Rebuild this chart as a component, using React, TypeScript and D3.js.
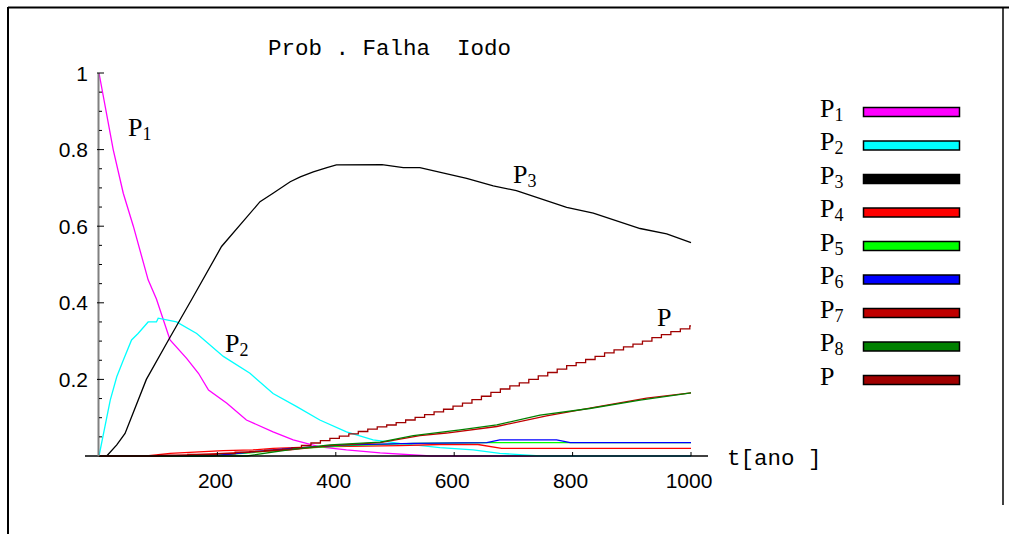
import React from "react";
import * as d3 from "d3";

// ---- data (t in years, probability) ----
const tP1 = [0, 24, 41, 58, 83, 97, 120, 148, 168, 185, 216, 249, 294, 328, 373, 418, 475, 560, 1000];
const vP1 = [1, 0.8, 0.686, 0.6, 0.46, 0.41, 0.303, 0.255, 0.216, 0.172, 0.138, 0.094, 0.063, 0.042, 0.024, 0.016, 0.008, 0, 0];

const tP2 = [0, 10, 19, 30, 41, 55, 66, 83, 97, 100, 131, 165, 210, 255, 294, 334, 373, 418, 463, 508, 576, 632, 677, 745, 1000];
const vP2 = [0, 0.077, 0.146, 0.207, 0.25, 0.303, 0.32, 0.35, 0.35, 0.36, 0.35, 0.32, 0.26, 0.216, 0.163, 0.129, 0.094, 0.063, 0.042, 0.033, 0.022, 0.016, 0.007, 0, 0];

const tP3 = [0, 13, 30, 44, 80, 120, 157, 207, 272, 294, 323, 340, 362, 385, 401, 478, 514, 542, 621, 666, 705, 790, 835, 914, 959, 1000];
const vP3 = [0, 0, 0.029, 0.059, 0.2, 0.31, 0.41, 0.547, 0.664, 0.686, 0.716, 0.729, 0.742, 0.753, 0.76, 0.761, 0.753, 0.753, 0.725, 0.705, 0.693, 0.649, 0.634, 0.594, 0.58, 0.557];

const tP4 = [0, 80, 120, 210, 260, 294, 362, 508, 576, 640, 680, 1000];
const vP4 = [0, 0, 0.007, 0.014, 0.016, 0.02, 0.024, 0.027, 0.03, 0.03, 0.02, 0.02];

const tP5 = [0, 180, 260, 323, 418, 531, 655, 677, 773, 796, 1000];
const vP5 = [0, 0, 0.009, 0.018, 0.027, 0.033, 0.035, 0.035, 0.035, 0.035, 0.035];

const tP6 = [0, 190, 260, 323, 418, 531, 655, 677, 773, 796, 1000];
const vP6 = [0, 0, 0.011, 0.02, 0.029, 0.033, 0.035, 0.042, 0.042, 0.035, 0.035];

const tP7 = [0, 120, 200, 260, 323, 390, 475, 542, 587, 672, 756, 841, 925, 1000];
const vP7 = [0, 0, 0.006, 0.011, 0.016, 0.027, 0.035, 0.053, 0.06, 0.077, 0.105, 0.128, 0.151, 0.165];

const tP8 = [0, 250, 323, 390, 475, 531, 610, 672, 745, 829, 914, 1000];
const vP8 = [0, 0, 0.017, 0.029, 0.036, 0.053, 0.068, 0.081, 0.107, 0.124, 0.146, 0.165];

// total P (staircase)
const tP = [0, 100, 150, 200, 230, 255, 280, 295, 310, 326, 342, 358, 374, 390, 406, 422, 438, 454, 470, 486, 502, 518, 534, 550, 566, 582, 598, 614, 630, 646, 662, 678, 694, 710, 726, 742, 758, 774, 790, 806, 822, 838, 854, 870, 886, 902, 918, 934, 950, 966, 982, 998, 1000];
const vP = [0, 0.002, 0.004, 0.006, 0.01, 0.012, 0.015, 0.016, 0.018, 0.022, 0.028, 0.034, 0.04, 0.046, 0.052, 0.058, 0.064, 0.07, 0.076, 0.081, 0.087, 0.094, 0.101, 0.108, 0.115, 0.122, 0.13, 0.138, 0.147, 0.156, 0.166, 0.175, 0.183, 0.191, 0.2, 0.209, 0.218, 0.227, 0.236, 0.244, 0.252, 0.26, 0.269, 0.277, 0.285, 0.292, 0.3, 0.309, 0.317, 0.325, 0.332, 0.34, 0.34];

const xTicks = [200, 400, 600, 800, 1000];
const yTicks = [0.2, 0.4, 0.6, 0.8, 1];
const yTickLabels = ["0.2", "0.4", "0.6", "0.8", "1"];
const yMinor = [0.05, 0.1, 0.15, 0.25, 0.3, 0.35, 0.45, 0.5, 0.55, 0.65, 0.7, 0.75, 0.85, 0.9, 0.95];

const legendNames = ["P", "P", "P", "P", "P", "P", "P", "P", "P"];
const legendSubs = ["1", "2", "3", "4", "5", "6", "7", "8", ""];
const legendColors = ["#ff00ff", "#00ffff", "#000000", "#ff0000", "#00ff00", "#0000ff", "#c00000", "#008000", "#a00000"];

type S = { t: number[]; v: number[]; color: string; step?: boolean };
const series: S[] = [
  { t: tP1, v: vP1, color: "#ff00ff" },
  { t: tP2, v: vP2, color: "#00ffff" },
  { t: tP3, v: vP3, color: "#000000" },
  { t: tP4, v: vP4, color: "#ff0000" },
  { t: tP5, v: vP5, color: "#00ff00" },
  { t: tP6, v: vP6, color: "#0000ff" },
  { t: tP7, v: vP7, color: "#c00000" },
  { t: tP8, v: vP8, color: "#008000" },
  { t: tP, v: vP, color: "#a00000", step: true },
];

export default function App() {
  const W = 1009, H = 534;
  const x = d3.scaleLinear().domain([0, 1000]).range([99, 691]);
  const y = d3.scaleLinear().domain([0, 1]).range([456, 73]);
  const leg = d3.scalePoint<number>().domain(d3.range(9)).range([112, 380]);

  const mono = "'Liberation Mono', 'DejaVu Sans Mono', monospace";
  const sans = "'Liberation Sans', Arial, sans-serif";
  const serif = "'Liberation Serif', 'Times New Roman', serif";

  const mk = (s: S) => {
    const pts = s.t.map((t, i) => [t, s.v[i]] as [number, number]);
    const g = d3.line<[number, number]>().x(d => x(d[0])).y(d => y(d[1]));
    if (s.step) g.curve(d3.curveStepAfter);
    return g(pts) || "";
  };

  const lab = (px: number, py: number, sub: string, key: string) => (
    <text key={key} x={px} y={py} fontFamily={serif} fontSize={26} fill="#000">
      P<tspan fontSize={18} dy={4}>{sub}</tspan>
    </text>
  );

  return (
    <svg width={W} height={H} style={{ position: "absolute", left: 0, top: 0, background: "#fff" }}>
      {/* frame */}
      <line x1={8} y1={7.5} x2={1009} y2={7.5} stroke="#000" strokeWidth={2} />
      <line x1={8} y1={7} x2={8} y2={534} stroke="#000" strokeWidth={2} />
      <line x1={1003} y1={7} x2={1003} y2={505} stroke="#000" strokeWidth={1.5} />

      {/* title */}
      <text x={268} y={55} fontFamily={mono} fontSize={22.5} fill="#000" style={{ whiteSpace: "pre" }} xmlSpace="preserve">Prob . Falha  Iodo</text>

      {/* series */}
      {series.map((s, i) => (
        <path key={i} d={mk(s)} fill="none" stroke={s.color} strokeWidth={1.3} />
      ))}

      {/* axes */}
      <line x1={85} y1={y(0)} x2={708} y2={y(0)} stroke="#000" strokeWidth={1.5} />
      <line x1={x(0) - 0.5} y1={y(1)} x2={x(0) - 0.5} y2={y(0)} stroke="#808080" strokeWidth={2} />
      {yTicks.map((v, i) => (
        <g key={"yt" + i}>
          <line x1={x(0) - 2} x2={x(0) + 5} y1={y(v)} y2={y(v)} stroke="#000" strokeWidth={1} />
          <text x={88} y={y(v) + 7.5} textAnchor="end" fontFamily={sans} fontSize={21} fill="#000">{yTickLabels[i]}</text>
        </g>
      ))}
      {yMinor.map((v, i) => (
        <line key={"ym" + i} x1={x(0)} x2={x(0) + 3} y1={y(v)} y2={y(v)} stroke="#000" strokeWidth={1} />
      ))}
      {xTicks.map((t, i) => (
        <g key={"xt" + i}>
          <line x1={x(t)} x2={x(t)} y1={y(0)} y2={y(0) - 4} stroke="#000" strokeWidth={1} />
          <text x={x(t) - 2} y={488} textAnchor="middle" fontFamily={sans} fontSize={21} fill="#000">{t}</text>
        </g>
      ))}
      <text x={727} y={465} fontFamily={mono} fontSize={22.5} fill="#000" style={{ whiteSpace: "pre" }} xmlSpace="preserve">t[ano ]</text>

      {/* curve labels */}
      {lab(128, 136, "1", "l1")}
      {lab(225, 352, "2", "l2")}
      {lab(513, 183, "3", "l3")}
      {lab(657, 326, "", "l4")}

      {/* legend */}
      {legendNames.map((n, i) => (
        <g key={"lg" + i}>
          <text x={820} y={(leg(i) || 0) + 4.5} fontFamily={serif} fontSize={26} fill="#000">
            {n}<tspan fontSize={18} dy={4}>{legendSubs[i]}</tspan>
          </text>
          <rect x={863.5} y={(leg(i) || 0) - 4.5} width={96} height={9} fill={legendColors[i]} stroke="#000" strokeWidth={1.5} />
        </g>
      ))}
    </svg>
  );
}
